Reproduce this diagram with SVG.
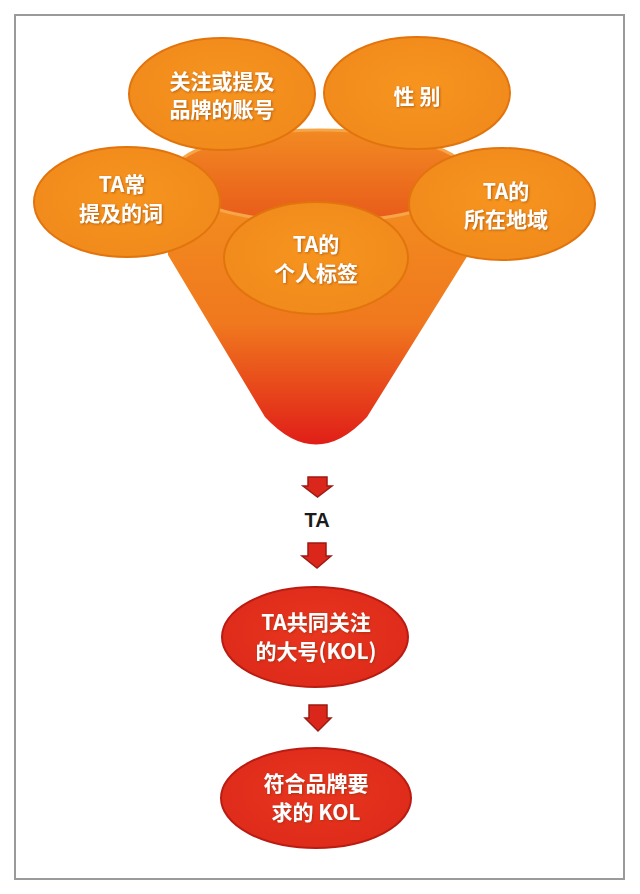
<svg xmlns="http://www.w3.org/2000/svg" width="640" height="894" viewBox="0 0 640 894">
<defs>
<linearGradient id="funnelG" x1="0" y1="0" x2="0" y2="1">
<stop offset="0" stop-color="#F3901F"/>
<stop offset="0.55" stop-color="#F0781E"/>
<stop offset="1" stop-color="#E01E18"/>
</linearGradient>
<linearGradient id="rimG" x1="0" y1="0" x2="0" y2="1">
<stop offset="0" stop-color="#F28A22"/>
<stop offset="1" stop-color="#E85A1A"/>
</linearGradient>
<radialGradient id="orangeG" cx="0.5" cy="0.45" r="0.6">
<stop offset="0" stop-color="#F7941E"/>
<stop offset="1" stop-color="#F08A1C"/>
</radialGradient>
<radialGradient id="redG" cx="0.5" cy="0.45" r="0.6">
<stop offset="0" stop-color="#E8361F"/>
<stop offset="1" stop-color="#DE2A1A"/>
</radialGradient>
<filter id="sh" x="-10%" y="-10%" width="130%" height="130%">
<feDropShadow dx="1" dy="1" stdDeviation="1" flood-color="#7a3000" flood-opacity="0.5"/>
</filter>
</defs>
<style>
.frame{fill:#ffffff;stroke:#9a9a9a;stroke-width:2}
.oe{fill:url(#orangeG);stroke:#E2740E;stroke-width:2}
.re{fill:url(#redG);stroke:#B81C12;stroke-width:2}
.wt{font-family:"Noto Sans CJK SC","Liberation Sans",sans-serif;font-weight:bold;fill:#ffffff;text-anchor:middle}
.bt{font-family:"Liberation Sans","Noto Sans CJK SC",sans-serif;font-weight:bold;fill:#1a1a1a;text-anchor:middle}
.arr{fill:#DA261B;stroke:#9E1A12;stroke-width:1.5;stroke-linejoin:miter}
</style>
<rect x="0" y="0" width="640" height="894" fill="#ffffff"/>
<rect class="frame" x="15" y="15" width="609" height="864"/>

<g id="funnel">
<path d="M171,176 C171,215 168,240 168,255 L265,417 Q316,472 367,417 L468,255 C468,240 469,215 469,176 Z" fill="url(#funnelG)"/>
<ellipse cx="320" cy="176" rx="149" ry="46" fill="url(#rimG)" stroke="#F6A548" stroke-width="3"/>
</g>

<g id="node-brand">
<ellipse class="oe" cx="222" cy="94" rx="93" ry="56"/>
<text class="wt" font-size="21" filter="url(#sh)"><tspan x="222" y="89">关注或提及</tspan><tspan x="222" y="117">品牌的账号</tspan></text>
</g>
<g id="node-gender">
<ellipse class="oe" cx="417" cy="93" rx="93" ry="56"/>
<text class="wt" font-size="21" x="417" y="104" filter="url(#sh)">性 别</text>
</g>
<g id="node-words">
<ellipse class="oe" cx="127" cy="202" rx="93" ry="55"/>
<text class="wt" font-size="21" filter="url(#sh)"><tspan x="122" y="192">TA常</tspan><tspan x="121" y="221">提及的词</tspan></text>
</g>
<g id="node-region">
<ellipse class="oe" cx="502" cy="204" rx="93" ry="56"/>
<text class="wt" font-size="21" filter="url(#sh)"><tspan x="506" y="199">TA的</tspan><tspan x="506" y="227">所在地域</tspan></text>
</g>
<g id="node-tags">
<ellipse class="oe" cx="316" cy="258" rx="92" ry="56"/>
<text class="wt" font-size="21" filter="url(#sh)"><tspan x="316" y="252">TA的</tspan><tspan x="316" y="281">个人标签</tspan></text>
</g>

<g id="connectors">
<polygon class="arr" points="308,477 327,477 327,486 332,486 317.5,497 303,486 308,486"/>
<polygon class="arr" points="308,543 326,543 326,556 331,556 317,568 302,556 308,556"/>
<polygon class="arr" points="309,705 327,705 327,718 331,718 318,731 305,718 309,718"/>
</g>

<g id="node-ta">
<text class="bt" font-size="20" x="317" y="527">TA</text>
</g>
<g id="node-kol">
<ellipse class="re" cx="315" cy="637" rx="93" ry="50"/>
<text class="wt" font-size="21" filter="url(#sh)"><tspan x="316" y="630">TA共同关注</tspan><tspan x="316" y="659">的大号(KOL)</tspan></text>
</g>
<g id="node-final">
<ellipse class="re" cx="316" cy="798" rx="95" ry="50"/>
<text class="wt" font-size="21" filter="url(#sh)"><tspan x="316" y="791">符合品牌要</tspan><tspan x="316" y="820">求的 KOL</tspan></text>
</g>
</svg>
